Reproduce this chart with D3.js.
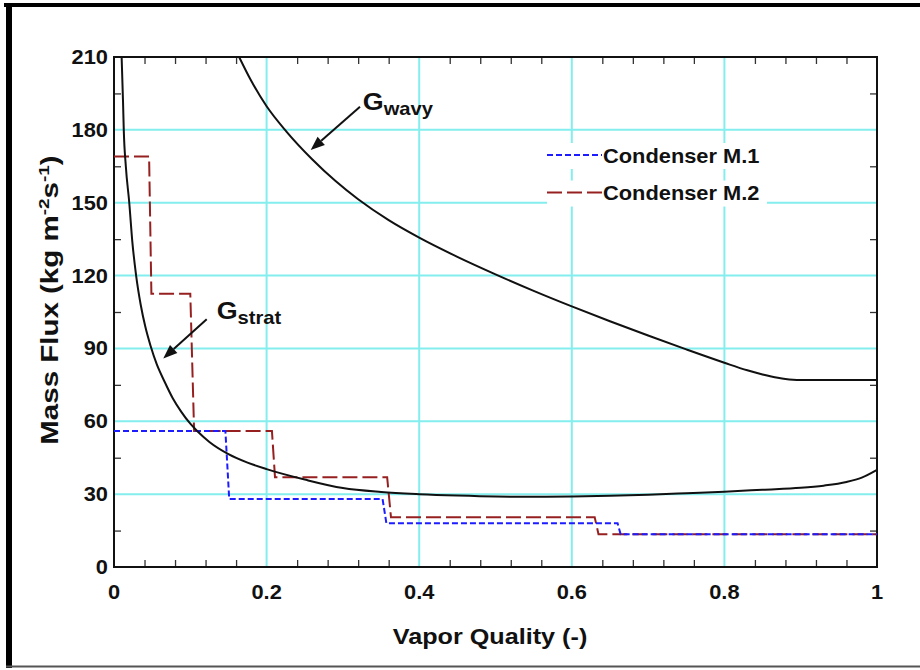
<!DOCTYPE html>
<html>
<head>
<meta charset="utf-8">
<script src="https://cdn.jsdelivr.net/npm/d3@7"></script>
<style>
  html, body { margin: 0; padding: 0; background: #fff; }
  svg { display: block; }
  text { font-family: "Liberation Sans", Arial, sans-serif; font-weight: bold; fill: #111; }
</style>
</head>
<body>
<svg id="chart" width="920" height="670"></svg>
<script>
// Stratified-flow transition boundary G_strat
const stratX = [0.0100, 0.0118, 0.0128, 0.0155, 0.020, 0.024, 0.029, 0.035, 0.041, 0.048, 0.056, 0.066, 0.077, 0.088, 0.100, 0.109, 0.125, 0.15, 0.175, 0.2, 0.25, 0.3, 0.35, 0.4, 0.45, 0.5, 0.55, 0.6, 0.65, 0.7, 0.75, 0.8, 0.85, 0.9, 0.93, 0.96, 0.98, 1.0];
const stratG = [210, 192, 180, 165, 150, 134, 120, 108, 99, 91, 83.5, 76.5, 69.5, 64, 59, 56, 51.5, 46.5, 43, 40.3, 36, 32.5, 30.9, 30.0, 29.4, 29.0, 28.9, 29.0, 29.3, 29.8, 30.4, 31.0, 31.8, 32.6, 33.5, 35.0, 36.8, 40];

// Wavy-flow transition boundary G_wavy
const wavyX = [0.164, 0.18, 0.2, 0.226, 0.26, 0.29, 0.32, 0.36, 0.4, 0.45, 0.5, 0.55, 0.6, 0.65, 0.7, 0.75, 0.8, 0.83, 0.85, 0.87, 0.88, 0.89, 0.9, 0.95, 1.0];
const wavyG = [210, 200.1, 189.7, 179.3, 167.8, 159.0, 151.4, 142.8, 135.6, 127.7, 120.5, 113.7, 107.3, 101.2, 95.3, 89.6, 84.1, 81.0, 79.3, 77.9, 77.4, 77.1, 77.0, 77.0, 77.0];

// Condenser operating lines (mass flux per pass)
const m1X = [0, 0.146, 0.151, 0.352, 0.357, 0.660, 0.664, 1.0];
const m1G = [56, 56, 28, 28, 18, 18, 13.5, 13.5];
const m2X = [0, 0.046, 0.049, 0.100, 0.105, 0.207, 0.211, 0.358, 0.363, 0.630, 0.635, 1.0];
const m2G = [169, 169, 112.5, 112.5, 56, 56, 37, 37, 20.5, 20.5, 13.5, 13.5];

const seriesNames = ["Condenser M.1", "Condenser M.2"];
const xTickLabels = ["0", "0.2", "0.4", "0.6", "0.8", "1"];
const yTickLabels = ["0", "30", "60", "90", "120", "150", "180", "210"];

const svg = d3.select("#chart");
const W = 920, H = 670;
const pL = 114, pR = 877, pT = 57, pB = 567;
const SX = 1.12; // horizontal glyph stretch

const x = d3.scaleLinear().domain([0, 1]).range([pL, pR]);
const y = d3.scaleLinear().domain([0, 210]).range([pB, pT]);

// outer picture border
svg.append("rect").attr("x", 0).attr("y", 0).attr("width", W).attr("height", H).attr("fill", "#fff");
svg.append("line").attr("x1", 4).attr("x2", W).attr("y1", 5).attr("y2", 5).attr("stroke", "#000").attr("stroke-width", 4);
svg.append("line").attr("x1", 9).attr("x2", 9).attr("y1", 3).attr("y2", 668).attr("stroke", "#000").attr("stroke-width", 6);
svg.append("line").attr("x1", 6).attr("x2", W).attr("y1", 666.5).attr("y2", 666.5).attr("stroke", "#555").attr("stroke-width", 2);

// grid
const gridC = "#84eeee";
const g = svg.append("g");
g.selectAll(".gx").data(xTickLabels.map(Number).filter(v => v > 0 && v < 1)).join("line")
  .attr("x1", d => x(d)).attr("x2", d => x(d)).attr("y1", pT).attr("y2", pB)
  .attr("stroke", gridC).attr("stroke-width", 2);
g.selectAll(".gy").data(yTickLabels.map(Number).filter(v => v > 0 && v < 210)).join("line")
  .attr("x1", pL).attr("x2", pR).attr("y1", d => y(d)).attr("y2", d => y(d))
  .attr("stroke", gridC).attr("stroke-width", 2);

// minor ticks on all four sides
const minorX = d3.range(1, 25).map(i => i * 0.04).filter(v => Math.abs(v / 0.2 - Math.round(v / 0.2)) > 1e-6);
const minorY = d3.range(15, 210, 30);
const tickLen = 7;
function minorAxis(axis, tr) {
  const a = svg.append("g").attr("transform", tr).call(axis);
  a.select(".domain").remove();
  a.selectAll("line").attr("stroke", "#333").attr("stroke-width", 1.3);
  a.selectAll("text").remove();
}
minorAxis(d3.axisBottom(x).tickValues(minorX).tickSize(-tickLen), `translate(0,${pB})`);
minorAxis(d3.axisTop(x).tickValues(minorX).tickSize(-tickLen), `translate(0,${pT})`);
minorAxis(d3.axisLeft(y).tickValues(minorY).tickSize(-tickLen), `translate(${pL},0)`);
minorAxis(d3.axisRight(y).tickValues(minorY).tickSize(-tickLen), `translate(${pR},0)`);

// plot frame
svg.append("rect").attr("x", pL).attr("y", pT).attr("width", pR - pL).attr("height", pB - pT)
  .attr("fill", "none").attr("stroke", "#111").attr("stroke-width", 2);

// tick labels
const fs = 19.5;
svg.append("g").selectAll("text").data(xTickLabels).join("text")
  .attr("transform", d => `translate(${x(+d)},599) scale(${SX},1)`)
  .attr("text-anchor", "middle").attr("font-size", fs).text(d => d);
svg.append("g").selectAll("text").data(yTickLabels).join("text")
  .attr("transform", d => `translate(108,${y(+d) + 7}) scale(${SX},1)`)
  .attr("text-anchor", "end").attr("font-size", fs).text(d => d);

// axis titles
svg.append("text").attr("transform", `translate(490,644) scale(${SX},1)`)
  .attr("text-anchor", "middle").attr("font-size", 22.5).text("Vapor Quality (-)");
const yt = svg.append("text").attr("transform", `translate(58,300) rotate(-90) scale(1,0.78)`)
  .attr("text-anchor", "middle").attr("font-size", 29.5);
yt.append("tspan").text("Mass Flux (kg m");
yt.append("tspan").attr("font-size", 19).attr("dy", -11).text("-2");
yt.append("tspan").attr("dy", 11).text("s");
yt.append("tspan").attr("font-size", 19).attr("dy", -11).text("-1");
yt.append("tspan").attr("dy", 11).text(")");

// curves
svg.append("clipPath").attr("id", "plot").append("rect")
  .attr("x", pL).attr("y", pT).attr("width", pR - pL).attr("height", pB - pT);
const plot = svg.append("g").attr("clip-path", "url(#plot)");
const smooth = d3.line().x(d => x(d[0])).y(d => y(d[1])).curve(d3.curveMonotoneX);
const straight = d3.line().x(d => x(d[0])).y(d => y(d[1]));
const zip = (a, b) => a.map((v, i) => [v, b[i]]);

const m1Style = { color: "#1c1cff", dash: "6,3" };
const m2Style = { color: "#962020", dash: "15,5" };

plot.append("path").attr("d", straight(zip(m2X, m2G))).attr("fill", "none")
  .attr("stroke", m2Style.color).attr("stroke-width", 2).attr("stroke-dasharray", m2Style.dash);
plot.append("path").attr("d", straight(zip(m1X, m1G))).attr("fill", "none")
  .attr("stroke", m1Style.color).attr("stroke-width", 2).attr("stroke-dasharray", m1Style.dash);
plot.append("path").attr("d", smooth(zip(stratX, stratG))).attr("fill", "none")
  .attr("stroke", "#111").attr("stroke-width", 2);
plot.append("path").attr("d", smooth(zip(wavyX, wavyG))).attr("fill", "none")
  .attr("stroke", "#111").attr("stroke-width", 2);

// legend
const legendY = [155, 192.5];
const styles = [m1Style, m2Style];
seriesNames.forEach((name, i) => {
  const cy = legendY[i];
  svg.append("rect").attr("x", 547).attr("y", cy - 12).attr("width", 220).attr("height", 26).attr("fill", "#fff");
  svg.append("line").attr("x1", 547).attr("x2", 602).attr("y1", cy).attr("y2", cy)
    .attr("stroke", styles[i].color).attr("stroke-width", 2).attr("stroke-dasharray", styles[i].dash);
  svg.append("text").attr("transform", `translate(603,${cy + 7.5}) scale(${SX},1)`)
    .attr("font-size", fs).text(name);
});

// annotations with arrows
function arrow(x0, y0, x1, y1) {
  const px0 = x(x0), py0 = y(y0), px1 = x(x1), py1 = y(y1);
  const ang = Math.atan2(py1 - py0, px1 - px0);
  const L = 14, Wd = 5.5;
  const bx = px1 - L * Math.cos(ang), by = py1 - L * Math.sin(ang);
  svg.append("line").attr("x1", px0).attr("y1", py0).attr("x2", bx).attr("y2", by)
    .attr("stroke", "#111").attr("stroke-width", 2);
  const pts = [[px1, py1], [bx + Wd * Math.sin(ang), by - Wd * Math.cos(ang)], [bx - Wd * Math.sin(ang), by + Wd * Math.cos(ang)]];
  svg.append("polygon").attr("points", pts.map(p => p.join(",")).join(" ")).attr("fill", "#111");
}
function label(xv, yv, sub) {
  const t = svg.append("text").attr("transform", `translate(${x(xv)},${y(yv)}) scale(${SX},1)`).attr("font-size", 24);
  t.append("tspan").text("G");
  t.append("tspan").attr("font-size", 18).attr("dy", 5).text(sub);
}
arrow(0.3224, 189.5, 0.2578, 171.7);
label(0.326, 188.2, "wavy");
arrow(0.1215, 102, 0.0646, 85.9);
label(0.1346, 102, "strat");
</script>
</body>
</html>
